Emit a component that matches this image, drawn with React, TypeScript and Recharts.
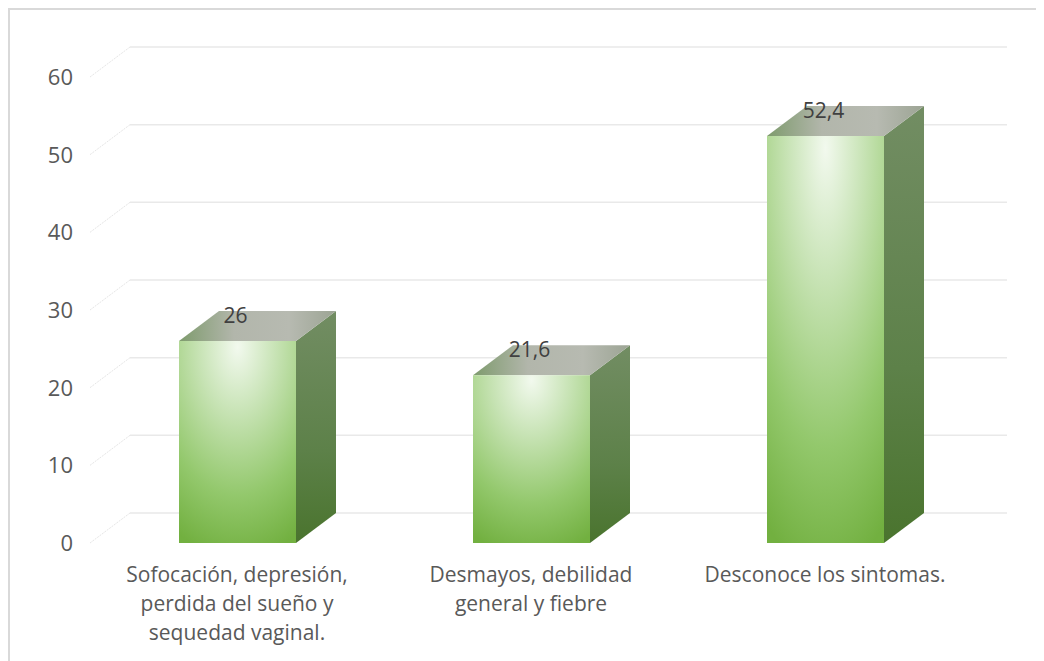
import React from "react";
import { BarChart, Bar, XAxis, YAxis, CartesianGrid, LabelList } from "recharts";

const categories = ["Sofocación, depresión, perdida del sueño y sequedad vaginal.", "Desmayos, debilidad general y fiebre", "Desconoce los sintomas."];
const categoryLines = [
  ["Sofocación, depresión,", "perdida del sueño y", "sequedad vaginal."],
  ["Desmayos, debilidad", "general y fiebre"],
  ["Desconoce los sintomas."],
];
const values = [26, 21.6, 52.4];
const yTicks = [0, 10, 20, 30, 40, 50, 60];

const data = categories.map((c, i) => ({ name: c, idx: i, value: values[i] }));

const DX = 40;
const DY = 30;
const FONT = "'Open Sans', 'Liberation Sans', sans-serif";

const Bar3D = (props: any) => {
  const { x, y, width, height } = props;
  if (width == null || height == null) return null;
  const front = `M${x},${y} h${width} v${height} h${-width} Z`;
  const side = `M${x + width},${y} L${x + width + DX},${y - DY} L${x + width + DX},${y + height - DY} L${x + width},${y + height} Z`;
  const top = `M${x},${y} L${x + DX},${y - DY} L${x + width + DX},${y - DY} L${x + width},${y} Z`;
  return (
    <g>
      <path d={side} fill="url(#sideGrad)" />
      <path d={top} fill="url(#topGrad)" />
      <path d={front} fill="url(#frontGrad)" />
    </g>
  );
};

const HLine = (props: any) => {
  const { x1, y1, x2 } = props;
  return (
    <g>
      <line x1={x1} y1={y1} x2={x1 + DX} y2={y1 - DY} stroke="#e6e6e6" strokeWidth={1} strokeDasharray="2 1" />
      <line x1={x1 + DX} y1={y1 - DY} x2={x2 + 35} y2={y1 - DY} stroke="#e9e9e9" strokeWidth={1.5} />
    </g>
  );
};

const XTick = (props: any) => {
  const { x, y, payload } = props;
  const lines = categoryLines[payload.index] || [String(payload.value)];
  return (
    <text x={x} y={y + 31} textAnchor="middle" fill="#595959" fontSize={21} fontFamily={FONT}>
      {lines.map((l, i) => (
        <tspan key={i} x={x} dy={i === 0 ? 0 : 29}>{l}</tspan>
      ))}
    </text>
  );
};

const YTick = (props: any) => {
  const { x, y, payload } = props;
  return (
    <text x={x - 11} y={y} dy={8} textAnchor="end" fill="#595959" fontSize={22} fontFamily={FONT}>
      {payload.value}
    </text>
  );
};

const ValueLabel = (props: any) => {
  const { x, y, width, value } = props;
  return (
    <text x={x + width / 2 - 2} y={y - 18} textAnchor="middle" fill="#404040" fontSize={21} fontFamily={FONT}>
      {String(value).replace(".", ",")}
    </text>
  );
};

export default function App() {
  return (
    <div style={{ width: 1034, height: 651, borderTop: "2px solid #d9d9d9", borderLeft: "2px solid #d9d9d9", background: "#fff" }}>
      <BarChart width={1034} height={651} data={data} margin={{ top: 67, right: 72, bottom: 88, left: 0 }} barSize={117}>
        <defs>
          <radialGradient id="frontGrad" cx="50%" cy="3%" r="105%" fx="50%" fy="3%">
            <stop offset="0" stopColor="#f2f9ee" />
            <stop offset="0.3" stopColor="#c9e4b7" />
            <stop offset="0.7" stopColor="#93c86c" />
            <stop offset="1" stopColor="#72b040" />
          </radialGradient>
          <linearGradient id="sideGrad" x1="0" y1="0" x2="0" y2="1">
            <stop offset="0" stopColor="#728d63" />
            <stop offset="0.6" stopColor="#5d8149" />
            <stop offset="1" stopColor="#4a742e" />
          </linearGradient>
          <linearGradient id="topGrad" x1="0" y1="0" x2="1" y2="0">
            <stop offset="0" stopColor="#7e9b6d" />
            <stop offset="0.35" stopColor="#b2b6ab" />
            <stop offset="0.7" stopColor="#b7bab1" />
            <stop offset="1" stopColor="#9ca494" />
          </linearGradient>
        </defs>
        <CartesianGrid vertical={false} horizontal={HLine as any} />
        <YAxis
          type="number"
          domain={[0, 60]}
          ticks={yTicks}
          width={80}
          axisLine={false}
          tickLine={false}
          tick={YTick}
          tickMargin={0}
          interval={0}
        />
        <XAxis dataKey="name" axisLine={false} tickLine={false} tick={XTick} interval={0} />
        <Bar dataKey="value" shape={Bar3D} isAnimationActive={false}>
          <LabelList dataKey="value" content={ValueLabel} />
        </Bar>
      </BarChart>
    </div>
  );
}
